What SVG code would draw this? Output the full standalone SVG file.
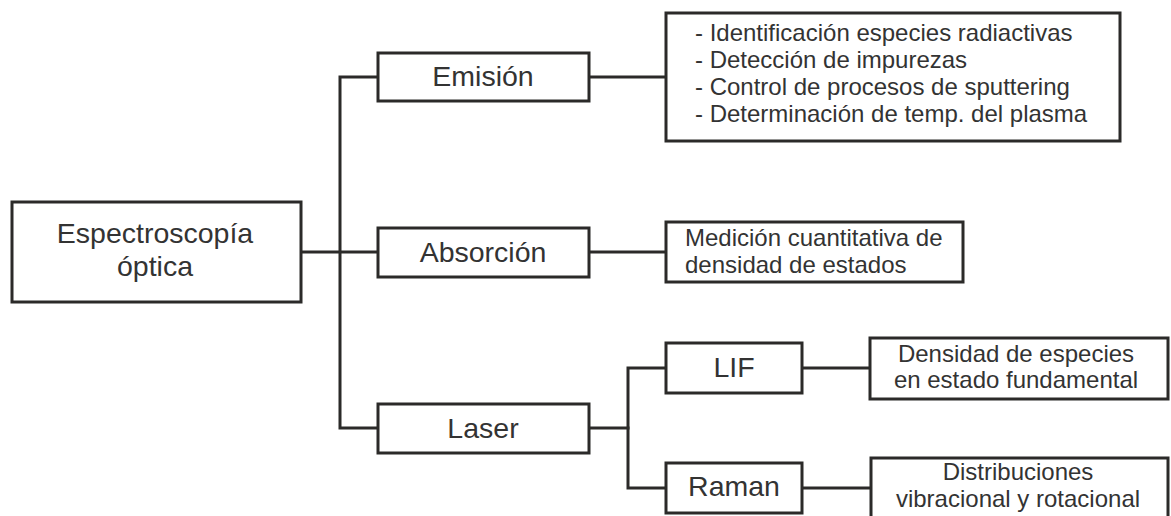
<svg xmlns="http://www.w3.org/2000/svg" width="1171" height="516" viewBox="0 0 1171 516">
<style>
.box{fill:#fff;stroke:#2b2a29;stroke-width:3}
.ln{fill:none;stroke:#2b2a29;stroke-width:3;stroke-linejoin:miter;stroke-linecap:square}
.big{font-family:"Liberation Sans",Arial,sans-serif;font-size:28.5px;fill:#333;text-anchor:middle}
.sm{font-family:"Liberation Sans",Arial,sans-serif;font-size:24px;fill:#333}
.smc{font-family:"Liberation Sans",Arial,sans-serif;font-size:24px;fill:#333;text-anchor:middle}
</style>
<rect width="1171" height="516" fill="#fff"/>
<g id="connectors">
<path class="ln" d="M301 252H378"/>
<path class="ln" d="M378 77H340V428H378"/>
<path class="ln" d="M589 77H666"/>
<path class="ln" d="M589 252H666"/>
<path class="ln" d="M589 428H628"/>
<path class="ln" d="M666 368H628V488H666"/>
<path class="ln" d="M802 368H870"/>
<path class="ln" d="M802 488H871"/>
</g>
<g id="espectroscopia">
<rect class="box" x="12" y="202" width="289" height="100"/>
<text class="big" x="155" y="243">Espectroscopía</text>
<text class="big" x="155" y="276">óptica</text>
</g>
<g id="emision">
<rect class="box" x="378" y="53" width="211" height="48"/>
<text class="big" x="483" y="86">Emisión</text>
</g>
<g id="absorcion">
<rect class="box" x="378" y="228" width="211" height="49"/>
<text class="big" x="483" y="262">Absorción</text>
</g>
<g id="laser">
<rect class="box" x="378" y="404" width="211" height="49"/>
<text class="big" x="483" y="438">Laser</text>
</g>
<g id="emision-usos">
<rect class="box" x="666" y="13" width="454" height="128"/>
<text class="sm" x="695" y="41">- Identificación especies radiactivas</text>
<text class="sm" x="695" y="68">- Detección de impurezas</text>
<text class="sm" x="695" y="95">- Control de procesos de sputtering</text>
<text class="sm" x="695" y="122">- Determinación de temp. del plasma</text>
</g>
<g id="absorcion-uso">
<rect class="box" x="666" y="222" width="297" height="60"/>
<text class="sm" x="685" y="246">Medición cuantitativa de</text>
<text class="sm" x="685" y="273">densidad de estados</text>
</g>
<g id="lif">
<rect class="box" x="666" y="343" width="136" height="50"/>
<text class="big" x="734" y="377">LIF</text>
</g>
<g id="raman">
<rect class="box" x="666" y="463" width="136" height="50"/>
<text class="big" x="734" y="496">Raman</text>
</g>
<g id="lif-uso">
<rect class="box" x="870" y="338" width="298" height="61"/>
<text class="smc" x="1016" y="362">Densidad de especies</text>
<text class="smc" x="1016" y="388">en estado fundamental</text>
</g>
<g id="raman-uso">
<rect class="box" x="871" y="458" width="297" height="70"/>
<text class="smc" x="1018" y="480">Distribuciones</text>
<text class="smc" x="1018" y="507">vibracional y rotacional</text>
</g>
</svg>
